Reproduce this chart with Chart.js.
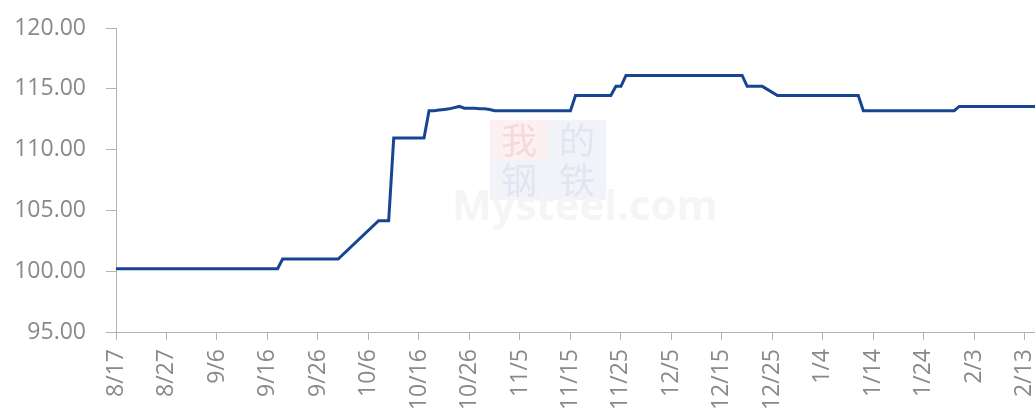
<!DOCTYPE html>
<html>
<head>
<meta charset="utf-8">
<script src="https://cdn.jsdelivr.net/npm/chart.js@4.4.0/dist/chart.umd.min.js"></script>
<style>
    html, body { margin: 0; padding: 0; background: #fff; }
    canvas { display: block; }
</style>
</head>
<body>
<canvas id="priceChart" width="1035" height="410"></canvas>
<script>
// first day of the series, one label per calendar day
const startDay = [2022, 7, 17];
const dayCount = 183;

// daily price index, null = no quote (holiday / weekend)
const priceValues = [
    100.2, 100.2, 100.2, 100.2, 100.2, 100.2, 100.2, 100.2, 100.2, 100.2,
    100.2, 100.2, 100.2, 100.2, 100.2, 100.2, 100.2, 100.2, 100.2, 100.2,
    100.2, 100.2, 100.2, 100.2, 100.2, 100.2, 100.2, 100.2, 100.2, 100.2,
    100.2, 100.2, 100.2, 101.0, 101.0, 101.0, 101.0, 101.0, 101.0, 101.0,
    101.0, 101.0, 101.0, 101.0, 101.0, null, null, null, null, null,
    null, null, 104.15, 104.15, 104.15, 110.95, 110.95, 110.95, 110.95, 110.95,
    110.95, 110.95, 113.2, 113.2, 113.25, 113.3, 113.35, 113.45, 113.55, 113.4,
    113.4, 113.4, 113.35, 113.35, 113.3, 113.2, 113.2, 113.2, 113.2, 113.2,
    113.2, 113.2, 113.2, 113.2, 113.2, 113.2, 113.2, 113.2, 113.2, 113.2,
    113.2, 114.45, 114.45, 114.45, 114.45, 114.45, 114.45, 114.45, 114.45, 115.2,
    115.2, 116.1, 116.1, 116.1, 116.1, 116.1, 116.1, 116.1, 116.1, 116.1,
    116.1, 116.1, 116.1, 116.1, 116.1, 116.1, 116.1, 116.1, 116.1, 116.1,
    116.1, 116.1, 116.1, 116.1, 116.1, 115.2, 115.2, 115.2, 115.2, null,
    null, 114.45, 114.45, 114.45, 114.45, 114.45, 114.45, 114.45, 114.45, 114.45,
    114.45, 114.45, 114.45, 114.45, 114.45, 114.45, 114.45, 114.45, 113.2, 113.2,
    113.2, 113.2, 113.2, 113.2, 113.2, 113.2, 113.2, 113.2, 113.2, 113.2,
    113.2, 113.2, 113.2, 113.2, 113.2, 113.2, 113.2, 113.55, 113.55, 113.55,
    113.55, 113.55, 113.55, 113.55, 113.55, 113.55, 113.55, 113.55, 113.55, 113.55,
    113.55, 113.55, 113.55
];

// y axis
const yMin = 95;
const yMax = 120;
const yStep = 5;
const labelEvery = 10;

function buildDayLabels() {
    const labels = [];
    for (let i = 0; i < dayCount; i++) {
        const d = new Date(Date.UTC(startDay[0], startDay[1], startDay[2] + i));
        labels.push((d.getUTCMonth() + 1) + "/" + d.getUTCDate());
    }
    return labels;
}

// faint "我的钢铁 Mysteel.com" watermark behind the line
const watermark = {
    id: "watermark",
    beforeDatasetsDraw(chart) {
        const ctx = chart.ctx;
        ctx.save();
        const boxes = [
            { x: 490, y: 120, fill: "#fdf0f0", ink: "#f6d9d9", ch: "我" },
            { x: 548, y: 120, fill: "#f1f3f9", ink: "#e0e5f1", ch: "的" },
            { x: 490, y: 160, fill: "#f1f3f9", ink: "#e0e5f1", ch: "钢" },
            { x: 548, y: 160, fill: "#f1f3f9", ink: "#e0e5f1", ch: "铁" }
        ];
        ctx.textAlign = "center";
        ctx.textBaseline = "middle";
        ctx.font = "36px 'Noto Sans CJK SC'";
        boxes.forEach(b => {
            ctx.fillStyle = b.fill;
            ctx.fillRect(b.x, b.y, 58, 40);
            ctx.fillStyle = b.ink;
            ctx.fillText(b.ch, b.x + 29, b.y + 20);
        });
        ctx.textAlign = "left";
        ctx.textBaseline = "alphabetic";
        ctx.font = "bold 42px 'Open Sans'";
        ctx.fillStyle = "#f5f5f5";
        ctx.fillText("Mysteel.com", 452, 220);
        ctx.restore();
    }
};

const axisGray = "#b3b3b3";
const tickGray = "#898989";

new Chart(document.getElementById("priceChart"), {
    type: "line",
    data: {
        labels: buildDayLabels(),
        datasets: [{
            data: priceValues,
            borderColor: "#174591",
            borderWidth: 3,
            pointRadius: 0,
            tension: 0,
            spanGaps: true,
            fill: false
        }]
    },
    options: {
        responsive: false,
        animation: false,
        devicePixelRatio: 1,
        layout: { padding: { top: 28, left: 0, right: 0, bottom: 0 } },
        plugins: {
            legend: { display: false },
            tooltip: { enabled: false }
        },
        scales: {
            x: {
                offset: false,
                grid: {
                    display: true,
                    drawOnChartArea: false,
                    tickLength: 8,
                    color: axisGray
                },
                border: { color: axisGray, width: 1 },
                ticks: {
                    autoSkip: false,
                    minRotation: 90,
                    maxRotation: 90,
                    padding: 9,
                    color: tickGray,
                    font: { family: "'Open Sans'", size: 23 },
                    callback: function (value, index) {
                        return index % labelEvery === 0 ? this.getLabelForValue(value) : null;
                    }
                },
                afterFit: axis => {
                    axis.height = 78;
                    axis.paddingLeft = 0;
                    axis.paddingRight = 0;
                }
            },
            y: {
                min: yMin,
                max: yMax,
                grid: {
                    display: true,
                    drawOnChartArea: false,
                    tickLength: 10,
                    color: axisGray
                },
                border: { color: axisGray, width: 1 },
                ticks: {
                    stepSize: yStep,
                    padding: 20,
                    color: tickGray,
                    font: { family: "'Open Sans'", size: 23 },
                    callback: v => v.toFixed(2)
                },
                afterFit: axis => {
                    axis.width = 116;
                    axis.paddingTop = 0;
                    axis.paddingBottom = 0;
                }
            }
        }
    },
    plugins: [watermark]
});
</script>
</body>
</html>
